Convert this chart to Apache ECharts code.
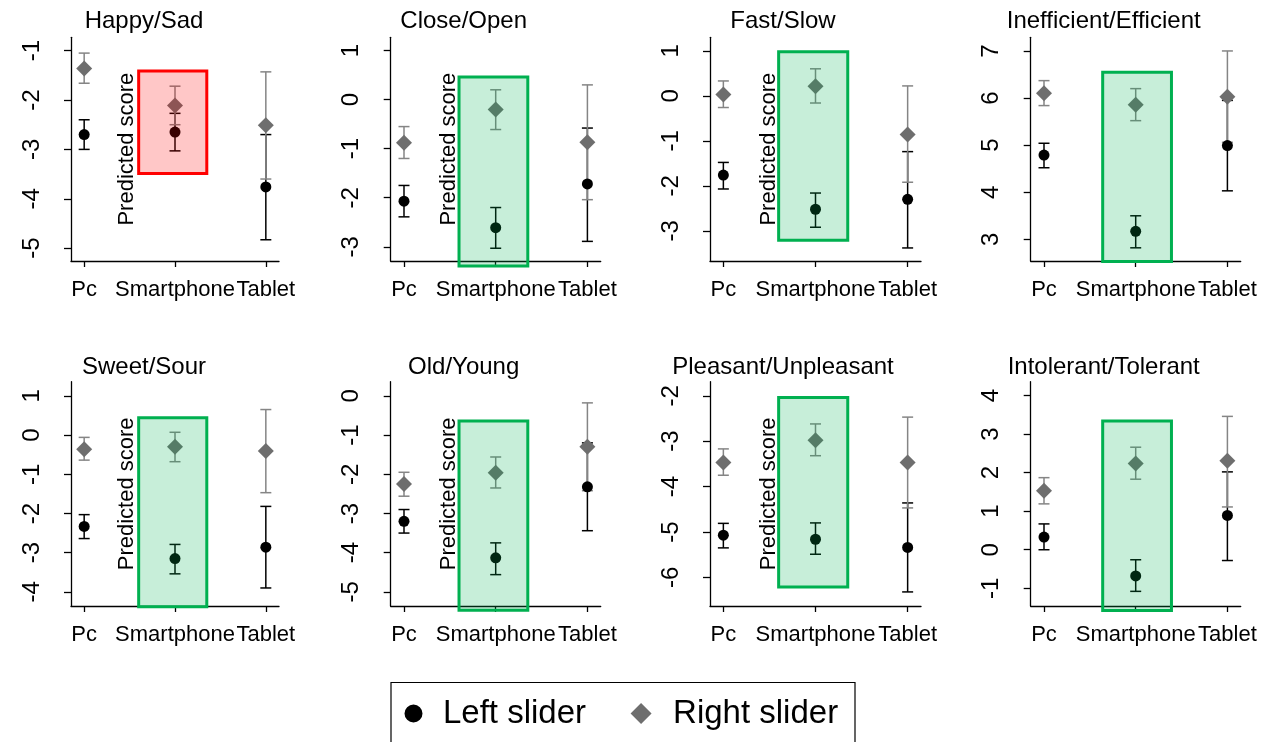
<!DOCTYPE html>
<html>
<head>
<meta charset="utf-8">
<script src="https://cdn.jsdelivr.net/npm/echarts@6/dist/echarts.min.js"></script>
<style>
  html, body { margin: 0; padding: 0; background: #ffffff; }
  #chart { width: 1272px; height: 742px; }
</style>
</head>
<body>
<div id="chart"></div>
<script>
// Devices on the x axis of every panel
const devices = ['Pc', 'Smartphone', 'Tablet'];

// One panel per adjective pair
const panelTitles = [
  'Happy/Sad', 'Close/Open', 'Fast/Slow', 'Inefficient/Efficient',
  'Sweet/Sour', 'Old/Young', 'Pleasant/Unpleasant', 'Intolerant/Tolerant'
];

// Y axis ranges and tick labels per panel
const yMin = [-5.26, -3.29, -3.67, 2.54, -4.36, -5.36, -6.63, -1.46];
const yMax = [-0.73, 1.27, 1.30, 7.29, 1.36, 0.36, -1.69, 4.36];
const yTicks = [
  [-5, -4, -3, -2, -1],
  [-3, -2, -1, 0, 1],
  [-3, -2, -1, 0, 1],
  [3, 4, 5, 6, 7],
  [-4, -3, -2, -1, 0, 1],
  [-5, -4, -3, -2, -1, 0],
  [-6, -5, -4, -3, -2],
  [-1, 0, 1, 2, 3, 4]
];

// Left slider: predicted score and 95% CI (Pc, Smartphone, Tablet)
const leftMean = [
  [-2.70, -2.65, -3.76], [-2.07, -2.61, -1.72], [-1.76, -2.52, -2.30], [4.79, 3.17, 4.99],
  [-2.33, -3.15, -2.86], [-3.20, -4.13, -2.32], [-5.07, -5.16, -5.34], [0.33, -0.68, 0.89]
];
const leftLow = [
  [-3.00, -3.03, -4.83], [-2.39, -3.03, -2.89], [-2.07, -2.92, -3.38], [4.52, 2.82, 4.03],
  [-2.64, -3.54, -3.90], [-3.50, -4.56, -3.44], [-5.35, -5.49, -6.32], [0.00, -1.08, -0.28]
];
const leftHigh = [
  [-2.40, -2.27, -2.70], [-1.75, -2.20, -0.58], [-1.48, -2.16, -1.24], [5.04, 3.50, 5.95],
  [-2.03, -2.79, -1.82], [-2.90, -3.75, -1.20], [-4.81, -4.80, -4.36], [0.67, -0.26, 2.02]
];

// Right slider: predicted score and 95% CI (Pc, Smartphone, Tablet)
const rightMean = [
  [-1.36, -2.11, -2.51], [-0.88, -0.20, -0.87], [0.03, 0.21, -0.86], [6.10, 5.86, 6.03],
  [-0.36, -0.30, -0.41], [-2.25, -1.96, -1.30], [-3.47, -2.98, -3.47], [1.53, 2.24, 2.31]
];
const rightLow = [
  [-1.66, -2.50, -3.60], [-1.20, -0.61, -2.04], [-0.26, -0.16, -1.92], [5.84, 5.52, 5.06],
  [-0.64, -0.68, -1.47], [-2.56, -2.35, -2.42], [-3.75, -3.32, -4.47], [1.19, 1.83, 1.11]
];
const rightHigh = [
  [-1.05, -1.72, -1.43], [-0.55, 0.20, 0.30], [0.33, 0.60, 0.22], [6.37, 6.20, 7.00],
  [-0.06, 0.07, 0.65], [-1.95, -1.56, -0.18], [-3.17, -2.62, -2.47], [1.87, 2.66, 3.46]
];

// Highlight box around the Smartphone pair: [x from, x to] and [y top, y bottom] in axis units
const boxX = [
  [1.60, 2.35], [1.60, 2.35], [1.60, 2.35], [1.64, 2.39],
  [1.60, 2.35], [1.60, 2.35], [1.60, 2.35], [1.64, 2.39]
];
const boxY = [
  [-1.41, -3.49], [0.46, -3.39], [0.98, -3.21], [6.55, 2.53],
  [0.44, -4.38], [-0.645, -5.47], [-2.04, -6.21], [3.34, -1.58]
];
const boxKind = ['worse', 'better', 'better', 'better', 'better', 'better', 'better', 'better'];

// ---- layout & styles ----
const FONT = '"Liberation Sans", Arial, sans-serif';
const colLeft = [71, 390.7, 710, 1030.7];
const colWidth = [208, 210, 211, 210];
const rowTop = [37.3, 381.7];
const rowHeight = [223.7, 224.3];
const yNameX = [137.5, 459.5, 779.5];
const boxStyles = {
  worse: { fill: 'rgba(255,0,0,0.22)', stroke: '#ff0000' },
  better: { fill: 'rgba(0,176,80,0.22)', stroke: '#00b050' }
};
const leftColor = '#000000';
const rightColor = '#6e6e6e';
const rightBarColor = '#858585';

function renderErrorBar(params, api) {
  const x = api.value(0);
  const lo = api.coord([x, api.value(1)]);
  const hi = api.coord([x, api.value(2)]);
  const cap = 5.5;
  const style = { stroke: api.visual('color'), lineWidth: 1.5, fill: null };
  return {
    type: 'group',
    children: [
      { type: 'line', shape: { x1: lo[0], y1: lo[1], x2: hi[0], y2: hi[1] }, style },
      { type: 'line', shape: { x1: lo[0] - cap, y1: lo[1], x2: lo[0] + cap, y2: lo[1] }, style },
      { type: 'line', shape: { x1: hi[0] - cap, y1: hi[1], x2: hi[0] + cap, y2: hi[1] }, style }
    ]
  };
}

function makeBoxRenderer(kind) {
  return function (params, api) {
    const p0 = api.coord([api.value(0), api.value(1)]);
    const p1 = api.coord([api.value(2), api.value(3)]);
    return {
      type: 'rect',
      shape: { x: p0[0], y: p0[1], width: p1[0] - p0[0], height: p1[1] - p0[1] },
      style: { fill: boxStyles[kind].fill, stroke: boxStyles[kind].stroke, lineWidth: 3 }
    };
  };
}

const grids = [], xAxes = [], yAxes = [], series = [], titles = [], graphics = [];

panelTitles.forEach((title, i) => {
  const col = i % 4, row = Math.floor(i / 4);
  grids.push({
    left: colLeft[col], top: rowTop[row], width: colWidth[col], height: rowHeight[row],
    outerBoundsMode: 'none'
  });
  xAxes.push({
    gridIndex: i, type: 'value', min: 0.855, max: 3.145,
    axisLine: { onZero: false, lineStyle: { color: '#000', width: 1.3 } },
    axisTick: { customValues: [1, 2, 3], length: 6, lineStyle: { color: '#000', width: 1.3 } },
    axisLabel: {
      customValues: [1, 2, 3], margin: 18, fontSize: 22, color: '#000', fontFamily: FONT,
      hideOverlap: false, showMinLabel: true, showMaxLabel: true,
      formatter: v => devices[Math.round(v) - 1]
    },
    splitLine: { show: false }
  });
  yAxes.push({
    gridIndex: i, type: 'value', min: yMin[i], max: yMax[i],
    axisLine: { show: true, onZero: false, lineStyle: { color: '#000', width: 1.3 } },
    axisTick: { show: true, customValues: yTicks[i], length: 7, lineStyle: { color: '#000', width: 1.3 } },
    axisLabel: {
      customValues: yTicks[i], rotate: 90, margin: 27, fontSize: 24, color: '#000',
      fontFamily: FONT, hideOverlap: false
    },
    splitLine: { show: false }
  });

  const xs = [1, 2, 3];
  series.push({
    name: 'Left slider CI', type: 'custom', xAxisIndex: i, yAxisIndex: i, z: 2,
    itemStyle: { color: leftColor }, renderItem: renderErrorBar,
    encode: { x: 0, y: [1, 2] },
    data: xs.map((x, k) => [x, leftLow[i][k], leftHigh[i][k]])
  });
  series.push({
    name: 'Right slider CI', type: 'custom', xAxisIndex: i, yAxisIndex: i, z: 2,
    itemStyle: { color: rightBarColor }, renderItem: renderErrorBar,
    encode: { x: 0, y: [1, 2] },
    data: xs.map((x, k) => [x, rightLow[i][k], rightHigh[i][k]])
  });
  series.push({
    name: 'Left slider', type: 'scatter', xAxisIndex: i, yAxisIndex: i, z: 3,
    symbol: 'circle', symbolSize: 11, itemStyle: { color: leftColor, opacity: 1 },
    data: xs.map((x, k) => [x, leftMean[i][k]])
  });
  series.push({
    name: 'Right slider', type: 'scatter', xAxisIndex: i, yAxisIndex: i, z: 3,
    symbol: 'diamond', symbolSize: [16, 16], itemStyle: { color: rightColor, opacity: 1 },
    data: xs.map((x, k) => [x, rightMean[i][k]])
  });
  series.push({
    name: 'Smartphone box', type: 'custom', xAxisIndex: i, yAxisIndex: i, z: 4,
    clip: false, silent: true, renderItem: makeBoxRenderer(boxKind[i]),
    encode: { x: [0, 2], y: [1, 3] },
    data: [[boxX[i][0], boxY[i][0], boxX[i][1], boxY[i][1]]]
  });

  titles.push({
    text: title, left: colLeft[col] + 73, top: row === 0 ? 9.4 : 355, textAlign: 'center', padding: 0,
    textStyle: { fontSize: 24, fontWeight: 'normal', color: '#000', fontFamily: FONT }
  });

  if (col < 3) {
    graphics.push({
      type: 'text', x: yNameX[col], y: rowTop[row] + rowHeight[row] / 2, rotation: Math.PI / 2, z: 10,
      style: {
        text: 'Predicted score', fill: '#000', font: '22px ' + FONT,
        textAlign: 'center', textVerticalAlign: 'bottom'
      }
    });
  }
});

// Frame around the legend
graphics.push({
  type: 'rect', z: 0, shape: { x: 391, y: 682.5, width: 464, height: 80 },
  style: { fill: 'none', stroke: '#000', lineWidth: 1.2 }
});

const chart = echarts.init(document.getElementById('chart'), null, { renderer: 'canvas' });
chart.setOption({
  backgroundColor: '#ffffff',
  animation: false,
  textStyle: { fontFamily: FONT },
  title: titles,
  grid: grids,
  xAxis: xAxes,
  yAxis: yAxes,
  series: series,
  graphic: graphics,
  legend: {
    data: [
      {
        name: 'Left slider', icon: 'circle',
        itemStyle: { borderColor: '#ffffff', borderWidth: 3 },
        textStyle: { padding: [0, 0, 0, 14] }
      },
      {
        name: 'Right slider', icon: 'path://M10,0L20,10L10,20L0,10Z',
        textStyle: { padding: [0, 0, 0, 16.5] }
      }
    ],
    left: 401.5, top: 696.5, padding: 0,
    itemWidth: 21, itemHeight: 21, itemGap: 44.5,
    selectedMode: false,
    textStyle: { fontSize: 33, color: '#000', fontFamily: FONT, lineHeight: 34 }
  }
});
</script>
</body>
</html>
